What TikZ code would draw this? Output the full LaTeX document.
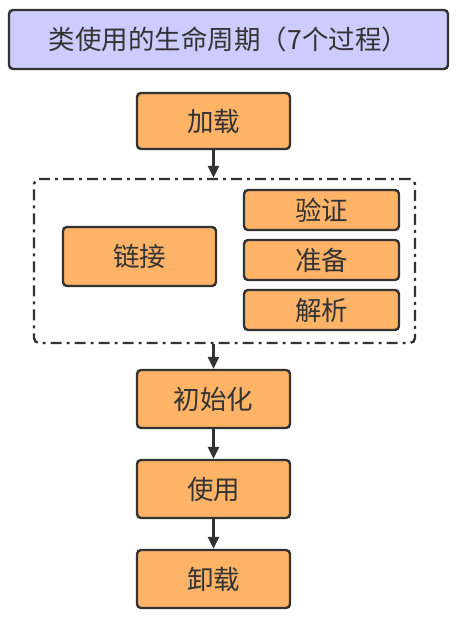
\documentclass[tikz,border=0pt]{standalone}
\usepackage{fontspec}
\setmainfont{Noto Sans CJK SC}
\usetikzlibrary{arrows.meta}
\definecolor{boxorange}{RGB}{255,179,102}
\definecolor{titlefill}{RGB}{204,204,255}
\definecolor{dark}{RGB}{51,51,51}
\tikzset{
  stepbox/.style={draw=dark, line width=2.4pt, fill=boxorange, rounded corners=4pt, text=dark, font=\fontsize{26.5}{30}\selectfont, inner sep=0pt},
  titlebox/.style={draw=dark, line width=2.4pt, fill=titlefill, rounded corners=4pt, text=dark, font=\fontsize{26.5}{30}\selectfont, inner sep=0pt},
  groupbox/.style={draw=dark, line width=2.4pt, rounded corners=5pt, dash pattern=on 11pt off 5pt on 3pt off 5pt},
  conn/.style={draw=dark, line width=2.4pt, -{Triangle[length=12pt,width=11pt]}}
}
\begin{document}
\begin{tikzpicture}[x=1pt,y=-1pt]
\useasboundingbox (0,0) rectangle (462,617);
\node[titlebox, minimum width=439pt, minimum height=59pt] (title) at (228.5,39.5) {类使用的生命周期（7个过程）};
\node[stepbox, minimum width=153pt, minimum height=56pt] (load) at (213.5,121) {加载};
\node[groupbox, minimum width=381pt, minimum height=164pt] (group) at (224.5,261) {};
\node[stepbox, minimum width=153pt, minimum height=59pt] (link) at (139.5,256.5) {链接};
\node[stepbox, minimum width=155pt, minimum height=40pt] (verify) at (321.5,210) {验证};
\node[stepbox, minimum width=155pt, minimum height=40pt] (prepare) at (321.5,260) {准备};
\node[stepbox, minimum width=155pt, minimum height=40pt] (resolve) at (321.5,310) {解析};
\node[stepbox, minimum width=153pt, minimum height=58pt] (init) at (213.5,399) {初始化};
\node[stepbox, minimum width=153pt, minimum height=58pt] (use) at (213.5,489) {使用};
\node[stepbox, minimum width=153pt, minimum height=58pt] (unload) at (213.5,579) {卸载};
\draw[conn] (load.south) -- (load.south |- group.north);
\draw[conn] (load.south |- group.south) -- (init.north);
\draw[conn] (init) -- (use);
\draw[conn] (use) -- (unload);
\end{tikzpicture}
\end{document}
